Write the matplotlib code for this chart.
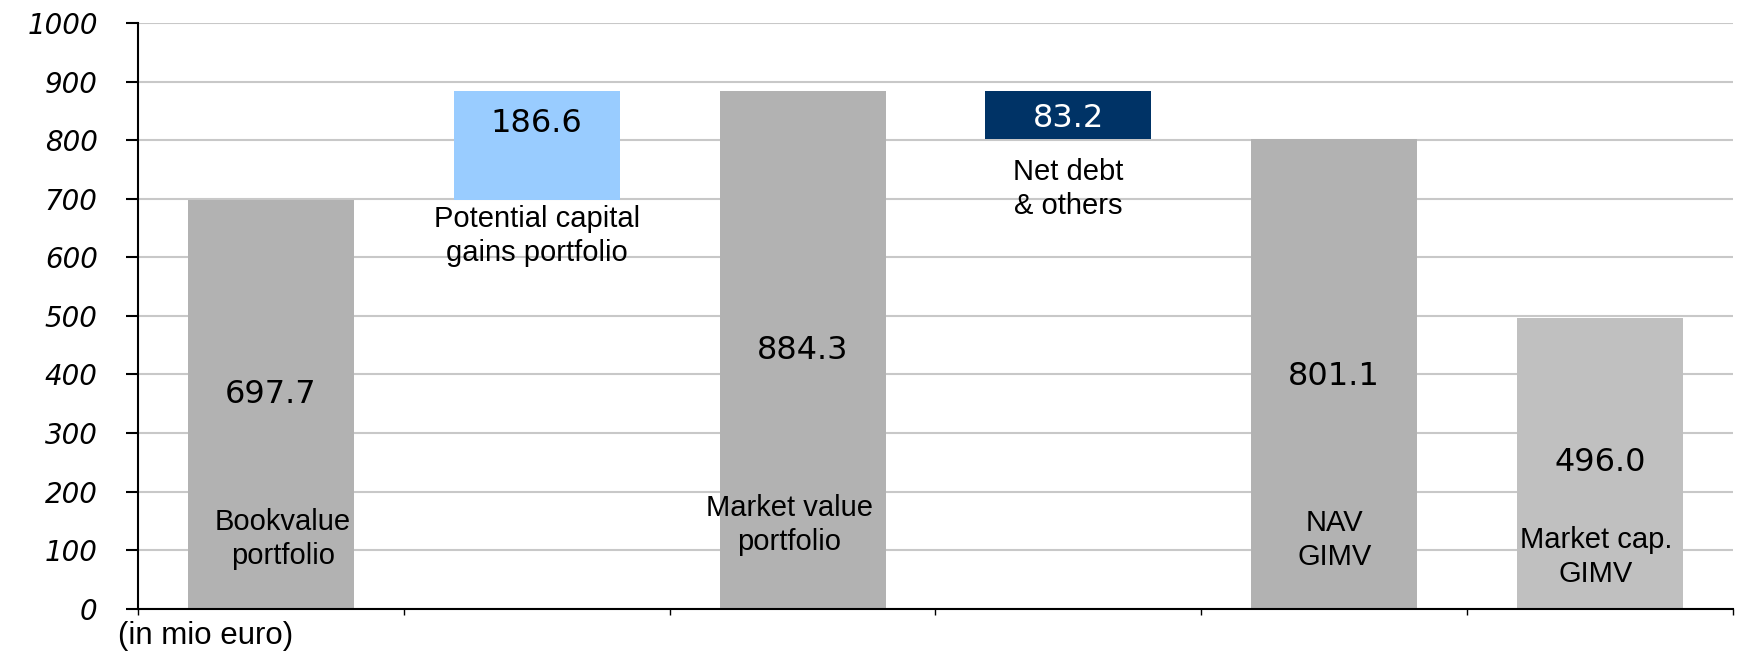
import matplotlib
matplotlib.use("Agg")
import matplotlib.pyplot as plt
from matplotlib.ticker import FixedLocator

categories = ["Bookvalue\nportfolio", "Potential capital\ngains portfolio", "Market value\nportfolio",
              "Net debt\n& others", "NAV\nGIMV", "Market cap.\nGIMV"]
values = [697.7, 186.6, 884.3, 83.2, 801.1, 496.0]
bottoms = [0, 697.7, 0, 801.1, 0, 0]
value_labels = ["697.7", "186.6", "884.3", "83.2", "801.1", "496.0"]
colors = ["#B2B2B2", "#99CCFF", "#B2B2B2", "#003366", "#B2B2B2", "#C0C0C0"]
value_text_colors = ["black", "black", "black", "white", "black", "black"]
value_label_y = [365, 828, 441, 837, 396, 249]
cat_label_y = [119, 636, 143, 716, 118, 88]
cat_label_dx = [0.045, 0.0, -0.05, 0.0, 0.0, -0.015]
yticks = [0, 100, 200, 300, 400, 500, 600, 700, 800, 900, 1000]

fig = plt.figure(figsize=(17.37, 6.52), dpi=100)
ax = fig.add_axes([138/1737, 1 - 608.7/652, (1733-138)/1737, (608.7-23)/652])

x = list(range(len(values)))
ax.bar(x, values, bottom=bottoms, width=0.625, color=colors, zorder=2)

for i in x:
    ax.text(i, value_label_y[i], value_labels[i], ha="center", va="center",
            fontsize=23, family="DejaVu Sans", color=value_text_colors[i], zorder=3)
    ax.text(i + cat_label_dx[i], cat_label_y[i], categories[i], ha="center", va="center",
            fontsize=21, family="Liberation Sans", color="black", zorder=3, linespacing=1.27)

ax.set_xlim(-0.5, len(values) - 0.5)
ax.set_ylim(0, 1000)
ax.set_yticks(yticks)
ax.set_yticklabels([str(t) for t in yticks], fontsize=20, family="DejaVu Sans", style="italic")
ax.yaxis.grid(True, color="#C8C8C8", linewidth=1.5, zorder=0)
ax.set_axisbelow(True)
ax.tick_params(axis="y", length=9, width=1.5, pad=20)
ax.xaxis.set_major_locator(FixedLocator([i - 0.5 for i in range(len(values) + 1)]))
ax.set_xticklabels([])
ax.tick_params(axis="x", length=4, width=1)
for s in ["top", "right"]:
    ax.spines[s].set_visible(False)
ax.spines["left"].set_linewidth(1.5)
ax.spines["bottom"].set_linewidth(1.5)

fig.text(206/1737, 1 - 636/652, "(in mio euro)", ha="center", va="center",
         fontsize=22.5, family="Liberation Sans")

fig.savefig("out.png", dpi=100)
